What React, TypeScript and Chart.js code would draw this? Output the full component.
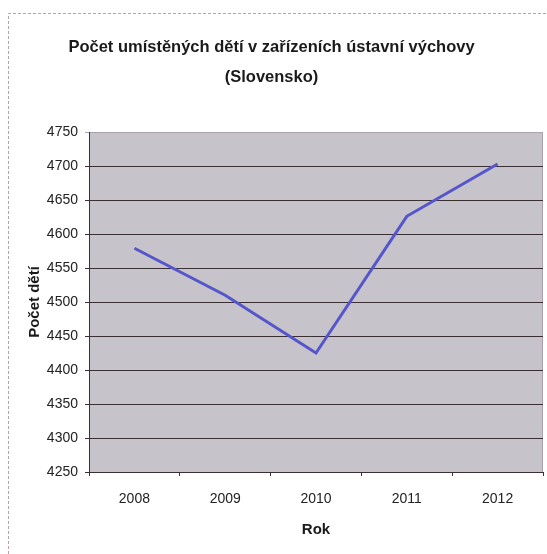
import React, { useEffect, useRef } from "react";
import { Chart, registerables } from "chart.js";

Chart.register(...registerables);

const years = ["2008", "2009", "2010", "2011", "2012"];
const childrenCount = [4579, 4510, 4425, 4626, 4703];
const titleLines = ["Počet umístěných dětí v zařízeních ústavní výchovy", "(Slovensko)"];
const yAxisTitle = "Počet dětí";
const xAxisTitle = "Rok";
const yMin = 4250;
const yMax = 4750;
const yStep = 50;

const FONT = "'Liberation Sans', Arial, sans-serif";

const framePlugin = {
  id: "frame",
  beforeDraw(chart: any) {
    const { ctx, chartArea } = chart;
    ctx.save();
    ctx.fillStyle = "#ffffff";
    ctx.fillRect(0, 0, chart.width, chart.height);
    // outer dashed frame
    ctx.strokeStyle = "#b4a2b0";
    ctx.lineWidth = 1;
    ctx.setLineDash([3, 2]);
    ctx.beginPath();
    ctx.moveTo(8.5, chart.height);
    ctx.lineTo(8.5, 13.5);
    ctx.lineTo(chart.width, 13.5);
    ctx.stroke();
    ctx.setLineDash([]);
    // plot area
    ctx.fillStyle = "#c7c3ca";
    ctx.fillRect(chartArea.left, chartArea.top, chartArea.right - chartArea.left, chartArea.bottom - chartArea.top);
    ctx.strokeStyle = "#a9a2aa";
    ctx.beginPath();
    ctx.moveTo(chartArea.left, chartArea.top + 0.5);
    ctx.lineTo(chartArea.right - 0.5, chartArea.top + 0.5);
    ctx.lineTo(chartArea.right - 0.5, chartArea.bottom);
    ctx.stroke();
    ctx.restore();
  },
};

export default function App() {
  const ref = useRef<HTMLCanvasElement | null>(null);
  useEffect(() => {
    if (!ref.current) return;
    const chart = new Chart(ref.current, {
      type: "line",
      data: {
        labels: years,
        datasets: [
          {
            data: childrenCount,
            borderColor: "#5656cc",
            borderWidth: 3,
            pointRadius: 0,
            tension: 0,
            fill: false,
          },
        ],
      },
      options: {
        animation: false,
        responsive: false,
        maintainAspectRatio: false,
        layout: { padding: { left: 0, right: 4, top: 0, bottom: 0 } },
        plugins: {
          legend: { display: false },
          tooltip: { enabled: false },
          title: {
            display: true,
            text: titleLines,
            color: "#1a1a1a",
            font: { family: FONT, size: 16.5, weight: "bold", lineHeight: 30 / 16.5 },
            padding: { top: 32, bottom: 40 },
          },
        },
        scales: {
          x: {
            offset: true,
            afterFit(scale: any) {
              scale.height = 82;
            },
            grid: {
              offset: true,
              drawOnChartArea: false,
              drawTicks: true,
              tickLength: 4,
              color: "#3a3034",
            },
            border: { display: true, color: "#3a3034", width: 1 },
            ticks: {
              color: "#222222",
              font: { family: FONT, size: 14 },
              padding: 15,
              maxRotation: 0,
            },
            title: {
              display: true,
              text: xAxisTitle,
              color: "#1a1a1a",
              font: { family: FONT, size: 15, weight: "bold" },
              padding: { top: 0, bottom: 15 },
            },
          },
          y: {
            min: yMin,
            max: yMax,
            afterFit(scale: any) {
              scale.width = 89;
            },
            grid: {
              color: (c: any) => (c.tick && c.tick.value === yMax ? "#a9a2aa" : "#3a3034"),
              drawTicks: true,
              tickLength: 4,
              lineWidth: 1,
            },
            border: { display: true, color: "#3a3034", width: 1 },
            ticks: {
              stepSize: yStep,
              color: "#222222",
              font: { family: FONT, size: 14 },
              padding: 7,
              callback: (v: any) => String(v),
            },
            title: {
              display: true,
              text: yAxisTitle,
              color: "#1a1a1a",
              font: { family: FONT, size: 15, weight: "bold" },
              padding: { top: 26, bottom: 0 },
            },
          },
        },
      },
      plugins: [framePlugin],
    });
    return () => chart.destroy();
  }, []);
  return (
    <div style={{ position: "fixed", left: 0, top: 0, width: 547, height: 554 }}>
      <canvas ref={ref} width={547} height={554} style={{ width: 547, height: 554, display: "block" }} />
    </div>
  );
}
